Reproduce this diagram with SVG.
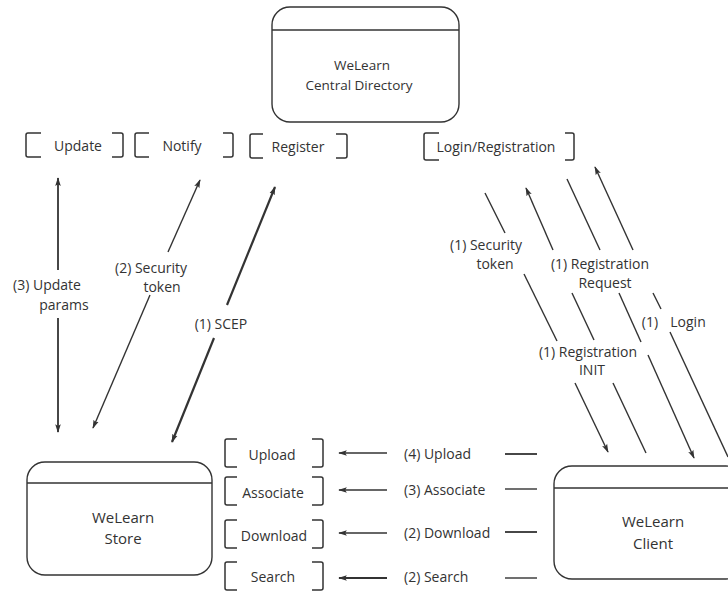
<svg xmlns="http://www.w3.org/2000/svg" width="728" height="591" viewBox="0 0 728 591">
<style>
text{font-family:"Open Sans","Liberation Sans",sans-serif;font-size:14px;fill:#333;text-anchor:middle}
.n{font-size:13.5px}
.b{font-size:15px}
.box{fill:#fff;stroke:#333;stroke-width:1.4}
.br{fill:none;stroke:#333;stroke-width:1.5}
.c{fill:none;stroke:#333;stroke-width:1.4}
.t{stroke-width:2.2}
.m{stroke-width:1.8}
.s{text-anchor:start}
</style>
<defs>
<marker id="ah" viewBox="0 0 10 8" refX="9" refY="4" markerWidth="9" markerHeight="7" markerUnits="userSpaceOnUse" orient="auto-start-reverse">
<path d="M0,0.8 L10,4 L0,7.2 L2,4 Z" fill="#333"/>
</marker>
</defs>
<rect width="728" height="591" fill="#fff"/>
<g id="central-directory">
<rect class="box" x="272" y="7" width="187" height="115" rx="18"/>
<line class="box" x1="272" y1="30" x2="459" y2="30"/>
<text class="n" x="362" y="70">WeLearn</text>
<text class="n" x="359" y="90">Central Directory</text>
</g>
<g id="store">
<rect class="box" x="27" y="462" width="185" height="113" rx="18"/>
<line class="box" x1="27" y1="483" x2="212" y2="483"/>
<text class="b" x="123" y="523">WeLearn</text>
<text class="b" x="123" y="544">Store</text>
</g>
<g id="client">
<rect class="box" x="554" y="466" width="190" height="113" rx="18"/>
<line class="box" x1="554" y1="488" x2="744" y2="488"/>
<text class="b" x="653" y="527">WeLearn</text>
<text class="b" x="653" y="549">Client</text>
</g>
<g id="update">
<path class="br" d="M41,133 H28 Q26,133 26,135 V155 Q26,157 28,157 H41 M112,133 H121 Q123,133 123,135 V155 Q123,157 121,157 H112"/>
<text x="78" y="151">Update</text>
</g>
<g id="notify">
<path class="br" d="M149,133 H137 Q135,133 135,135 V155 Q135,157 137,157 H149 M223,133 H231 Q233,133 233,135 V155 Q233,157 231,157 H223"/>
<text x="182" y="151">Notify</text>
</g>
<g id="register">
<path class="br" d="M263,134 H252 Q250,134 250,136 V156 Q250,158 252,158 H263 M336,134 H345 Q347,134 347,136 V156 Q347,158 345,158 H336"/>
<text x="298" y="152">Register</text>
</g>
<g id="login-registration">
<path class="br" d="M439,133 H426 Q424,133 424,135 V158 Q424,160 426,160 H439 M565,133 H572 Q574,133 574,135 V158 Q574,160 572,160 H565"/>
<text x="496" y="152">Login/Registration</text>
</g>
<g id="upload">
<path class="br" d="M237,439 H227 Q225,439 225,441 V465 Q225,467 227,467 H237 M312,439 H321 Q323,439 323,441 V465 Q323,467 321,467 H312"/>
<text x="272" y="460">Upload</text>
</g>
<g id="associate">
<path class="br" d="M237,477 H227 Q225,477 225,479 V503 Q225,505 227,505 H237 M312,477 H321 Q323,477 323,479 V503 Q323,505 321,505 H312"/>
<text x="273" y="498">Associate</text>
</g>
<g id="download">
<path class="br" d="M237,520 H227 Q225,520 225,522 V546 Q225,548 227,548 H237 M312,520 H321 Q323,520 323,522 V546 Q323,548 321,548 H312"/>
<text x="274" y="541">Download</text>
</g>
<g id="search">
<path class="br" d="M237,562 H227 Q225,562 225,564 V588 Q225,590 227,590 H237 M312,562 H321 Q323,562 323,564 V588 Q323,590 321,590 H312"/>
<text x="273" y="582">Search</text>
</g>
<g id="connectors">
<line class="c m" x1="58" y1="270" x2="58" y2="178" marker-end="url(#ah)"/>
<line class="c m" x1="58" y1="318" x2="58" y2="432" marker-end="url(#ah)"/>
<text x="47" y="290">(3) Update</text>
<text x="64" y="310">params</text>
<line class="c" x1="168" y1="252" x2="200" y2="180" marker-end="url(#ah)"/>
<line class="c" x1="150" y1="295" x2="93" y2="428" marker-end="url(#ah)"/>
<text x="151" y="273">(2) Security</text>
<text x="162" y="292">token</text>
<line class="c t" x1="227" y1="305" x2="275" y2="187" marker-end="url(#ah)"/>
<line class="c t" x1="214" y1="338" x2="172" y2="442" marker-end="url(#ah)"/>
<text x="221" y="329">(1) SCEP</text>
<line class="c" x1="485" y1="193" x2="505" y2="233"/>
<line class="c" x1="524" y1="274" x2="557" y2="341"/>
<line class="c" x1="575" y1="383" x2="608" y2="452" marker-end="url(#ah)"/>
<line class="c" x1="646" y1="453" x2="613" y2="383"/>
<line class="c" x1="594" y1="340" x2="572" y2="293"/>
<line class="c" x1="553" y1="250" x2="526" y2="188" marker-end="url(#ah)"/>
<line class="c" x1="567" y1="179" x2="600" y2="250"/>
<line class="c" x1="619" y1="293" x2="641" y2="342"/>
<line class="c" x1="648" y1="355" x2="694" y2="458" marker-end="url(#ah)"/>
<line class="c" x1="728" y1="457" x2="670" y2="332"/>
<line class="c" x1="661" y1="309" x2="653" y2="293"/>
<line class="c" x1="633" y1="250" x2="595" y2="167" marker-end="url(#ah)"/>
<text x="486" y="250">(1) Security</text>
<text x="495" y="269">token</text>
<text x="600" y="269">(1) Registration</text>
<text x="605" y="288">Request</text>
<text x="650" y="327">(1)</text>
<text x="688" y="327">Login</text>
<text x="588" y="357">(1) Registration</text>
<text x="592" y="375">INIT</text>
<line class="c" x1="387" y1="453" x2="339" y2="453" marker-end="url(#ah)"/>
<line class="c m" x1="505" y1="454" x2="537" y2="454"/>
<text class="s" x="404" y="459">(4) Upload</text>
<line class="c" x1="387" y1="490" x2="339" y2="490" marker-end="url(#ah)"/>
<line class="c" x1="505" y1="489" x2="537" y2="489"/>
<text class="s" x="404" y="495">(3) Associate</text>
<line class="c" x1="387" y1="533" x2="339" y2="533" marker-end="url(#ah)"/>
<line class="c m" x1="505" y1="532" x2="537" y2="532"/>
<text class="s" x="404" y="538">(2) Download</text>
<line class="c t" x1="387" y1="578" x2="339" y2="578" marker-end="url(#ah)"/>
<line class="c" x1="505" y1="578" x2="537" y2="578"/>
<text class="s" x="404" y="582">(2) Search</text>
</g>
</svg>
